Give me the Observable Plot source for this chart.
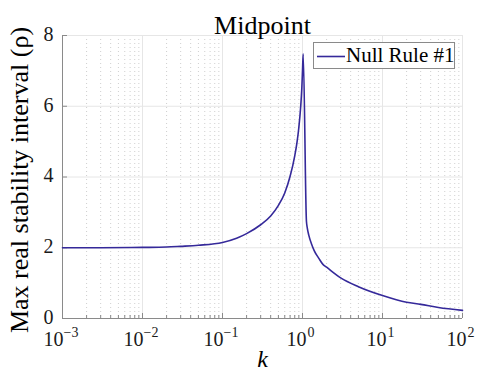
<!DOCTYPE html>
<html><head><meta charset="utf-8">
<script src="https://cdn.jsdelivr.net/npm/d3@7"></script>
<script src="https://cdn.jsdelivr.net/npm/@observablehq/plot@0.6"></script>
<style>
body{margin:0;background:#fff}
#wrap{position:relative;width:479px;height:385px}
svg{display:block}
#legend{position:absolute;left:313px;top:42px;width:142px;height:27px;border:1px solid #8a8a8a;background:#fff;font-family:"Liberation Serif","Times New Roman","DejaVu Serif",serif;font-size:21px;color:#000;box-sizing:border-box}
#legend svg{position:absolute;left:3px;top:12px}
#legend span{position:absolute;left:32px;top:0px;line-height:24px;white-space:nowrap}
</style>
</head><body><div id="wrap"></div>
<script>
const kValues   = [0.001, 0.003, 0.01, 0.02, 0.03, 0.05, 0.1, 0.15, 0.2, 0.3, 0.4, 0.5, 0.6, 0.7, 0.8, 0.85, 0.9, 0.95, 0.98, 1.0, 1.02, 1.12, 1.15, 1.2, 1.3, 1.4, 1.6, 1.8, 2, 3, 5, 10, 20, 30, 50, 100];
const rhoValues = [2.0, 2.0, 2.01, 2.02, 2.04, 2.07, 2.15, 2.27, 2.4, 2.65, 2.9, 3.2, 3.55, 4.02, 4.6, 4.95, 5.4, 6.0, 6.5, 7.0, 7.48, 2.75, 2.55, 2.35, 2.1, 1.92, 1.7, 1.53, 1.45, 1.15, 0.9, 0.65, 0.46, 0.4, 0.31, 0.23];
const seriesName = "Null Rule #1";
const xMajorTicks = [1e-3, 1e-2, 1e-1, 1, 10, 100];
const xTickExponents = ["−3", "−2", "−1", "0", "1", "2"];
const yTicks = [0, 2, 4, 6, 8];
const titleText = "Midpoint";
const xLabel = "k";
const yLabel = "Max real stability interval (ρ)";
const lineColor = "#35299a";

const data = kValues.map((k, i) => ({k, rho: rhoValues[i]}));
const xMinorTicks = d3.scaleLog().domain([1e-3, 1e2]).ticks().filter(v => !xMajorTicks.some(m => Math.abs(m - v) / m < 1e-9));
const xTickRows = xMajorTicks.map((v, i) => ({v, e: xTickExponents[i], neg: xTickExponents[i].startsWith("−")}));

const W = 479, H = 385, mL = 62, mR = 17, mT = 35, mB = 67;
const innerH = H - mT - mB, innerW = W - mL - mR;
const serif = "'Liberation Serif', 'Times New Roman', 'DejaVu Serif', serif";
const T = {fontFamily: serif};

const chart = Plot.plot({
  width: W, height: H,
  marginLeft: mL, marginRight: mR, marginTop: mT, marginBottom: mB,
  x: {type: "log", domain: [1e-3, 1e2], axis: null},
  y: {domain: [0, 8], axis: null},
  style: {background: "#fff"},
  marks: [
    Plot.ruleX(xMinorTicks, {stroke: "#cfcfcf", strokeDasharray: "1,3", strokeWidth: 1}),
    Plot.ruleX(xMajorTicks, {stroke: "#e6e6e6", strokeWidth: 1}),
    Plot.ruleY(yTicks, {stroke: "#e6e6e6", strokeWidth: 1}),
    Plot.ruleX([1e-3], {stroke: "#8a8a8a", strokeWidth: 1}),
    Plot.ruleY([0], {stroke: "#8a8a8a", strokeWidth: 1}),
    Plot.tickX(xMinorTicks, {stroke: "#8a8a8a", insetTop: innerH - 3}),
    Plot.tickX(xMajorTicks, {stroke: "#8a8a8a", insetTop: innerH - 5}),
    Plot.tickY(yTicks, {stroke: "#8a8a8a", insetRight: innerW - 5}),
    Plot.line(data, {x: "k", y: "rho", stroke: lineColor, strokeWidth: 1.6, curve: "monotone-x"}),
    Plot.text(yTicks, {...T, y: d => d, frameAnchor: "left", textAnchor: "end", dx: -9, dy: -1, fontSize: 20, fill: "#1a1a1a"}),
    Plot.text(xTickRows, {...T, filter: d => d.neg, x: "v", text: () => "10", frameAnchor: "bottom", textAnchor: "end", dx: 1, dy: 27, fontSize: 20, fill: "#1a1a1a"}),
    Plot.text(xTickRows, {...T, filter: d => d.neg, x: "v", text: "e", frameAnchor: "bottom", textAnchor: "start", dx: 1, dy: 18, fontSize: 14, fill: "#1a1a1a"}),
    Plot.text(xTickRows, {...T, filter: d => !d.neg, x: "v", text: () => "10", frameAnchor: "bottom", textAnchor: "end", dx: 4, dy: 27, fontSize: 20, fill: "#1a1a1a"}),
    Plot.text(xTickRows, {...T, filter: d => !d.neg, x: "v", text: "e", frameAnchor: "bottom", textAnchor: "start", dx: 5, dy: 18, fontSize: 14, fill: "#1a1a1a"}),
    Plot.text([titleText], {...T, frameAnchor: "top", textAnchor: "middle", dy: -20, fontSize: 26, fill: "#000"}),
    Plot.text([xLabel], {...T, frameAnchor: "bottom", textAnchor: "middle", dy: 48, fontSize: 24, fontStyle: "italic", fill: "#000"}),
    Plot.text([yLabel], {...T, frameAnchor: "left", textAnchor: "middle", rotate: -90, dx: -43, dy: 3, fontSize: 26, fill: "#000"})
  ]
});
const wrap = document.getElementById("wrap");
wrap.appendChild(chart);
const legend = document.createElement("div");
legend.id = "legend";
legend.innerHTML = `<svg width="28" height="3"><line x1="0" x2="28" y1="1.5" y2="1.5" stroke="${lineColor}" stroke-width="1.6"/></svg><span></span>`;
legend.querySelector("span").textContent = seriesName;
wrap.appendChild(legend);
</script>
</body></html>
